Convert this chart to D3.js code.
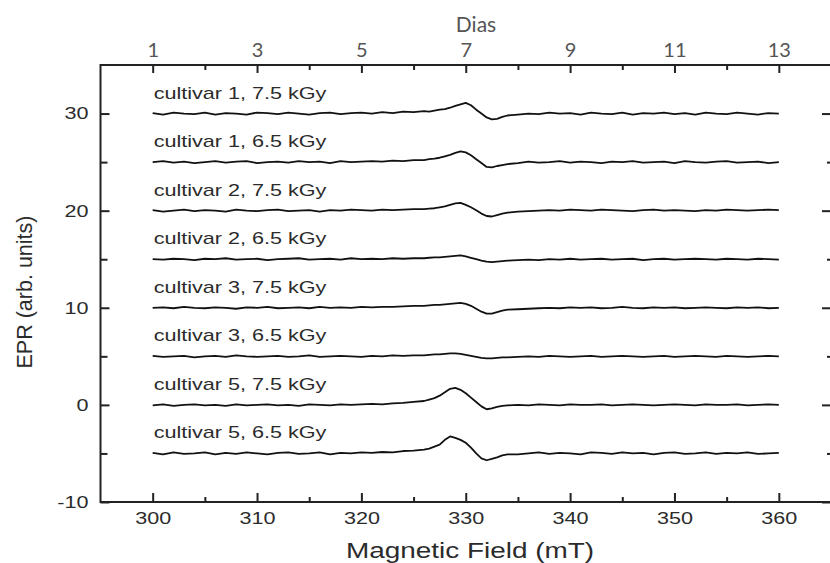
<!DOCTYPE html>
<html lang="en">
<head>
    <meta charset="UTF-8">
    <title>EPR spectra</title>
    <script src="https://d3js.org/d3.v7.min.js"></script>
    <style>
        body {
            margin: 0;
            padding: 0;
            background: #fff;
        }
        .tick line {
            stroke: #222;
            stroke-width: 2px;
        }
        .sans text, .sans {
            font-family: "Liberation Sans", Arial, sans-serif;
            fill: #2b2b2b;
        }
        .days text, .days {
            font-family: Lato, "Open Sans", sans-serif;
            fill: #555;
        }
        .trace {
            fill: none;
            stroke: #111;
            stroke-width: 1.8px;
            stroke-linejoin: round;
        }
    </style>
</head>
<body>
    <svg width="830" height="563"></svg>
    <script>
        // magnetic field values (mT) shared by every spectrum
        const fields = [
            300, 301, 302, 303, 304, 305, 306, 307, 308, 309, 310, 311, 312,
            313, 314, 315, 316, 317, 318, 319, 320, 321, 322, 323, 324, 325,
            326, 326.5, 327, 327.5, 328, 328.5, 329, 329.5, 330, 330.5, 331,
            331.5, 332, 332.5, 333, 333.5, 334,
            335, 336, 337, 338, 339, 340, 341, 342, 343, 344, 345, 346, 347,
            348, 349, 350, 351, 352, 353, 354, 355, 356, 357, 358, 359, 360
        ];

        // vertical offset of each spectrum
        const offsets = [30, 25, 20, 15, 10, 5, 0, -5];

        const labels = [
            "cultivar 1, 7.5 kGy", "cultivar 1, 6.5 kGy",
            "cultivar 2, 7.5 kGy", "cultivar 2, 6.5 kGy",
            "cultivar 3, 7.5 kGy", "cultivar 3, 6.5 kGy",
            "cultivar 5, 7.5 kGy", "cultivar 5, 6.5 kGy"
        ];

        // signal around each offset (arb. units)
        const c1_75 = [
            0.05, -0.1, 0.1, 0, -0.05, 0.1, -0.1, 0.05, 0, -0.1, 0.1, 0.05, -0.05, 0.1, 0, -0.1, 0.05, 0.1, -0.05, 0.05, 0.1, 0, 0.15, 0.05, 0.2, 0.15,
            0.25, 0.2, 0.3, 0.4, 0.45, 0.6, 0.8, 0.95, 1.1, 0.85, 0.4, 0.0, -0.4, -0.6, -0.55, -0.35, -0.2,
            -0.1, 0, -0.05, 0.1, 0, 0.05, -0.1, 0.1, 0, -0.05, 0.1, -0.1, 0.05, 0, 0.1, -0.05, 0.05, -0.1, 0.1, 0, -0.05, 0.1, 0, -0.1, 0.05, 0
        ];
        const c1_65 = [
            0, 0.1, -0.05, 0.05, -0.1, 0, 0.1, -0.05, 0.05, 0.1, -0.1, 0, 0.05, -0.05, 0.1, 0, 0.05, -0.1, 0.1, 0, 0.05, 0.1, 0.05, 0.15, 0.1, 0.2,
            0.2, 0.3, 0.35, 0.45, 0.6, 0.75, 0.95, 1.1, 1.0, 0.7, 0.3, -0.1, -0.5, -0.55, -0.4, -0.3, -0.2,
            -0.1, 0.05, -0.05, 0, 0.1, -0.05, 0.05, 0, -0.1, 0.05, 0, 0.1, -0.05, 0, 0.05, -0.1, 0.1, 0, -0.05, 0.05, 0.1, -0.05, 0, 0.05, -0.1, 0
        ];
        const c2_75 = [
            0.05, -0.1, 0, 0.1, -0.05, 0.05, 0, -0.1, 0.1, 0, -0.05, 0.05, 0.1, -0.05, 0, 0.05, -0.1, 0.05, 0, 0.1, 0.05, 0, 0.1, 0.05, 0.1, 0.15,
            0.15, 0.2, 0.25, 0.35, 0.45, 0.6, 0.75, 0.8, 0.6, 0.35, 0.05, -0.3, -0.55, -0.6, -0.45, -0.3, -0.2,
            -0.1, -0.05, 0, 0.05, 0, 0.1, 0.05, 0, 0.1, 0.05, 0, -0.05, 0.05, 0.1, 0, 0.05, 0, -0.05, 0.05, 0, 0.1, 0.05, 0, 0.05, 0.1, 0.05
        ];
        const c2_65 = [
            0, -0.05, 0.05, 0, -0.1, 0.05, 0, 0.1, -0.05, 0, 0.05, -0.1, 0, 0.05, 0.1, -0.05, 0, 0.05, -0.05, 0.1, 0, 0.05, 0, 0.1, 0.05, 0.1,
            0.1, 0.15, 0.2, 0.2, 0.25, 0.3, 0.35, 0.4, 0.3, 0.15, 0, -0.15, -0.25, -0.3, -0.25, -0.2, -0.15,
            -0.1, -0.05, -0.1, 0, -0.05, 0.05, -0.05, 0, 0.05, -0.05, 0, 0.05, -0.1, 0, 0.05, -0.05, 0, 0.05, 0, -0.05, 0.05, 0, -0.05, 0.05, 0, -0.05
        ];
        const c3_75 = [
            0, 0.05, -0.05, 0.1, 0, -0.05, 0.05, 0, -0.1, 0.05, 0, 0.1, -0.05, 0, 0.05, -0.05, 0.1, 0, 0.05, 0, 0.1, 0.05, 0.1, 0.1, 0.15, 0.2,
            0.2, 0.25, 0.3, 0.3, 0.35, 0.4, 0.45, 0.5, 0.4, 0.2, -0.1, -0.4, -0.6, -0.6, -0.45, -0.3, -0.2,
            -0.15, -0.1, -0.05, 0, -0.05, 0.05, 0, 0.05, -0.05, 0, 0.1, 0, -0.05, 0.05, 0, 0.05, -0.05, 0, 0.05, 0, -0.05, 0.05, 0, 0.05, -0.05, 0
        ];
        const c3_65 = [
            0.05, -0.05, 0, 0.05, -0.1, 0, 0.05, -0.05, 0.1, 0, -0.05, 0, 0.05, -0.05, 0, 0.1, -0.05, 0, 0.05, 0, -0.05, 0.05, 0, 0.1, 0.05, 0.1,
            0.1, 0.15, 0.2, 0.2, 0.25, 0.3, 0.3, 0.25, 0.15, 0.05, -0.05, -0.15, -0.2, -0.2, -0.15, -0.1, -0.1,
            -0.05, 0, -0.05, 0.05, 0, -0.05, 0, 0.05, -0.05, 0, 0.05, 0, -0.05, 0, 0.05, -0.05, 0, 0.05, 0, -0.05, 0.05, 0, -0.05, 0, 0.05, 0
        ];
        const c5_75 = [
            -0.05, 0.05, -0.1, 0, 0.05, -0.05, 0, -0.1, 0.05, -0.05, 0, 0.05, -0.05, 0, -0.1, 0.05, 0, -0.05, 0.05, 0, 0.05, 0.1, 0.05, 0.15, 0.2, 0.3,
            0.4, 0.55, 0.7, 0.95, 1.3, 1.65, 1.75, 1.55, 1.2, 0.75, 0.3, -0.15, -0.45, -0.35, -0.2, -0.1, -0.05,
            0, -0.05, 0.05, 0, -0.05, 0.05, 0, 0, 0.05, -0.05, 0, 0.05, 0, -0.05, 0, 0.05, 0, -0.05, 0.05, 0, 0, 0.05, -0.05, 0, 0.05, 0
        ];
        const c5_65 = [
            0.05, -0.1, 0.1, -0.05, 0, 0.1, -0.1, 0.05, -0.05, 0.1, 0, -0.1, 0.05, 0.1, -0.05, 0, 0.1, -0.1, 0.05, 0, 0.1, 0.05, 0.15, 0.1, 0.25, 0.3,
            0.4, 0.5, 0.7, 0.9, 1.4, 1.75, 1.6, 1.4, 1.1, 0.6, 0.0, -0.5, -0.7, -0.55, -0.4, -0.2, -0.1,
            -0.1, 0, 0.1, -0.05, 0.05, 0, -0.1, 0.1, 0.05, -0.05, 0.1, 0, 0.05, -0.1, 0.05, 0.1, -0.05, 0, 0.1, -0.05, 0.05, 0, 0.1, -0.05, 0, 0.05
        ];
        const signals = [c1_75, c1_65, c2_75, c2_65, c3_75, c3_65, c5_75, c5_65];

        // axis ticks
        const xMajor = [300, 310, 320, 330, 340, 350, 360];
        const xMinor = [305, 315, 325, 335, 345, 355];
        const yMajor = [-10, 0, 10, 20, 30];
        const yMinor = [-5, 5, 15, 25];
        const dayMajor = [1, 3, 5, 7, 9, 11, 13];
        const dayMinor = [2, 4, 6, 8, 10, 12];

        const svg = d3.select("svg");
        const plotLeft = 100.5, plotRight = 831, plotTop = 65, plotBottom = 502;
        const sx = 1.27; // labels are drawn a bit wide

        const x = d3.scaleLinear().domain([295, 365]).range([plotLeft, plotRight]);
        const y = d3.scaleLinear().domain([-10, 35]).range([plotBottom, plotTop]);
        // days on the top axis: day 1 = 300 mT, 5 mT per day
        const days = d3.scaleLinear().domain([0, 14]).range([plotLeft, plotRight]);

        // frame
        svg.append("rect")
            .attr("x", plotLeft).attr("y", plotTop)
            .attr("width", plotRight - plotLeft).attr("height", plotBottom - plotTop)
            .attr("fill", "none").attr("stroke", "#222").attr("stroke-width", 2);

        // bottom axis
        const gBottom = svg.append("g").attr("class", "sans")
            .attr("transform", `translate(0,${plotBottom})`)
            .call(d3.axisBottom(x).tickValues(xMajor).tickSize(-9).tickSizeOuter(0).tickPadding(10));
        svg.append("g").attr("transform", `translate(0,${plotBottom})`)
            .call(d3.axisBottom(x).tickValues(xMinor).tickSize(-5).tickSizeOuter(0).tickFormat(""));

        // left axis (plain hyphen for negatives, as in the original)
        const gLeft = svg.append("g").attr("class", "sans")
            .attr("transform", `translate(${plotLeft},0)`)
            .call(d3.axisLeft(y).tickValues(yMajor).tickFormat(d => String(d))
                .tickSize(-9).tickSizeOuter(0).tickPadding(12));
        svg.append("g").attr("transform", `translate(${plotLeft},0)`)
            .call(d3.axisLeft(y).tickValues(yMinor).tickSize(-7).tickSizeOuter(0).tickFormat(""));

        // right axis (ticks only)
        svg.append("g").attr("transform", `translate(${plotRight},0)`)
            .call(d3.axisRight(y).tickValues(yMajor).tickSize(-9).tickSizeOuter(0).tickFormat(""));
        svg.append("g").attr("transform", `translate(${plotRight},0)`)
            .call(d3.axisRight(y).tickValues(yMinor).tickSize(-4).tickSizeOuter(0).tickFormat(""));

        // top axis in days
        const gTop = svg.append("g").attr("class", "days")
            .attr("transform", `translate(0,${plotTop})`)
            .call(d3.axisTop(days).tickValues(dayMajor).tickSize(-8).tickSizeOuter(0).tickPadding(8));
        svg.append("g").attr("transform", `translate(0,${plotTop})`)
            .call(d3.axisTop(days).tickValues(dayMinor).tickSize(-5).tickSizeOuter(0).tickFormat(""));

        svg.selectAll(".domain").remove();

        gBottom.selectAll("text")
            .attr("font-size", 17)
            .attr("transform", `scale(${sx},1)`)
            .attr("fill", "#262626");
        gLeft.selectAll("text")
            .attr("font-size", 17)
            .attr("x", 0)
            .attr("transform", `translate(-12,0) scale(${sx},1)`)
            .attr("fill", "#262626");
        gTop.selectAll("text")
            .attr("font-size", 20)
            .attr("fill", "#555");

        // axis titles
        svg.append("text").attr("class", "days")
            .attr("text-anchor", "middle")
            .attr("font-size", 21)
            .attr("transform", "translate(476,32)")
            .text("Dias");

        svg.append("text").attr("class", "sans")
            .attr("text-anchor", "middle")
            .attr("font-size", 22)
            .attr("transform", "translate(470,558) scale(1.27,1)")
            .text("Magnetic Field (mT)");

        svg.append("text").attr("class", "sans")
            .attr("text-anchor", "middle")
            .attr("font-size", 21.5)
            .attr("transform", "translate(32,292) rotate(-90)")
            .text("EPR (arb. units)");

        // spectra
        const line = d3.line()
            .x(d => x(d[0]))
            .y(d => y(d[1]));

        const series = signals.map((s, i) => ({
            label: labels[i],
            offset: offsets[i],
            points: fields.map((f, j) => [f, offsets[i] + s[j]])
        }));

        svg.append("g")
            .selectAll("path")
            .data(series)
            .join("path")
            .attr("class", "trace")
            .attr("d", d => line(d.points));

        // labels above each spectrum
        svg.append("g").attr("class", "sans")
            .selectAll("text")
            .data(series)
            .join("text")
            .attr("font-size", 17)
            .attr("fill", "#222")
            .attr("transform", d => `translate(${x(300) + 1},${y(d.offset) - 15}) scale(${sx},1)`)
            .text(d => d.label);
    </script>
</body>
</html>
